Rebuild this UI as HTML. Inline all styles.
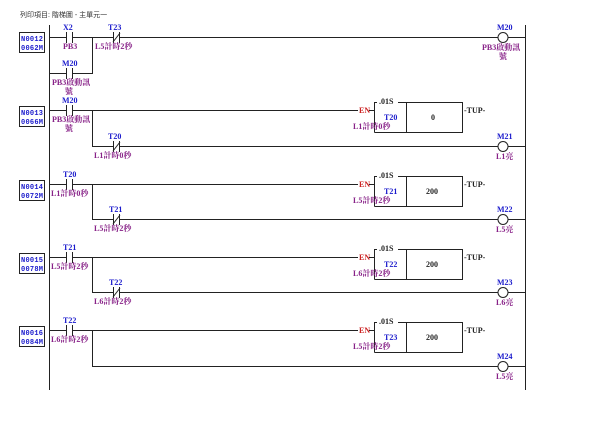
<!DOCTYPE html>
<html><head><meta charset="utf-8"><style>
html,body{margin:0;padding:0;background:#fff;width:600px;height:421px;overflow:hidden}
svg{display:block}
.a{fill:#1a1acc;font:bold 8px "Liberation Serif","Noto Serif CJK SC",serif}
.c{fill:#882288;font:bold 8px "Liberation Serif","Noto Serif CJK TC",serif}
.r{fill:#cc2222;font:bold 8px "Liberation Serif",serif}
.k{fill:#222;font:bold 8px "Liberation Serif",serif}
.n{fill:#1a1acc;font:bold 7px "Liberation Mono",monospace}
.t{fill:#333;font:7px "Liberation Sans","Noto Sans CJK TC",sans-serif}
line,rect,path,circle{stroke:#222;stroke-width:1;fill:none}
</style></head><body>
<svg width="600" height="421" viewBox="0 0 600 421">
<text class="t" x="20" y="17">列印項目: 階梯圖 - 主單元一</text>
<line x1="49.5" y1="25" x2="49.5" y2="390"/>
<line x1="525.5" y1="25" x2="525.5" y2="390"/>

<!-- N0012 -->
<rect x="19.5" y="32.5" width="25" height="20" stroke="#1a1acc"/>
<text class="n" x="21" y="41" textLength="22">N0012</text><text class="n" x="21" y="50" textLength="22">0062M</text>
<line x1="49" y1="37.5" x2="66" y2="37.5"/><line x1="66.5" y1="32" x2="66.5" y2="43"/><line x1="72.5" y1="32" x2="72.5" y2="43"/>
<line x1="72" y1="37.5" x2="113" y2="37.5"/>
<text class="a" x="63" y="30">X2</text><text class="c" x="63" y="49">PB3</text>
<line x1="113.5" y1="32" x2="113.5" y2="43"/><line x1="119.5" y1="32" x2="119.5" y2="43"/><line x1="113" y1="42" x2="120" y2="33"/>
<text class="a" x="108" y="30">T23</text><text class="c" x="95" y="49">L5計時2秒</text>
<line x1="119" y1="37.5" x2="498" y2="37.5"/>
<circle cx="503" cy="37.5" r="5"/><line x1="508" y1="37.5" x2="525" y2="37.5"/>
<text class="a" x="497" y="30">M20</text><text class="c" x="482" y="50">PB3啟動訊</text><text class="c" x="499" y="59">號</text>
<line x1="49" y1="73.5" x2="66" y2="73.5"/><line x1="66.5" y1="68" x2="66.5" y2="79"/><line x1="72.5" y1="68" x2="72.5" y2="79"/>
<line x1="72" y1="73.5" x2="92.5" y2="73.5"/><line x1="92.5" y1="37" x2="92.5" y2="74"/>
<text class="a" x="62" y="66">M20</text><text class="c" x="52" y="85">PB3啟動訊</text><text class="c" x="65" y="94">號</text>

<!-- N0013 -->
<rect x="19.5" y="106.5" width="25" height="20" stroke="#1a1acc"/>
<text class="n" x="21" y="115" textLength="22">N0013</text><text class="n" x="21" y="124" textLength="22">0066M</text>
<line x1="49" y1="110.5" x2="66" y2="110.5"/><line x1="66.5" y1="105" x2="66.5" y2="116"/><line x1="72.5" y1="105" x2="72.5" y2="116"/>
<text class="a" x="62" y="103">M20</text><text class="c" x="52" y="122">PB3啟動訊</text><text class="c" x="65" y="131">號</text>
<line x1="72" y1="110.5" x2="358" y2="110.5"/>
<text class="r" x="359" y="113">EN</text><line x1="369" y1="110.5" x2="374" y2="110.5"/>
<path d="M374.5 132.5 V102.5 H377 M398 102.5 H462.5 V132.5 H374.5 M406.5 102.5 V132.5"/>
<text class="k" x="379" y="104">.01S</text><text class="a" x="384" y="120">T20</text><text class="c" x="353" y="129">L1計時0秒</text>
<text class="k" x="431" y="120">0</text><text class="k" x="464" y="113">-TUP-</text>
<line x1="92.5" y1="110" x2="92.5" y2="147"/><line x1="92" y1="146.5" x2="113" y2="146.5"/>
<line x1="113.5" y1="141" x2="113.5" y2="152"/><line x1="119.5" y1="141" x2="119.5" y2="152"/><line x1="113" y1="151" x2="120" y2="142"/>
<text class="a" x="108" y="139">T20</text><text class="c" x="94" y="158">L1計時0秒</text>
<line x1="119" y1="146.5" x2="498" y2="146.5"/><circle cx="503" cy="146.5" r="5"/><line x1="508" y1="146.5" x2="525" y2="146.5"/>
<text class="a" x="497" y="139">M21</text><text class="c" x="496" y="159">L1亮</text>

<!-- N0014 -->
<rect x="19.5" y="180.5" width="25" height="20" stroke="#1a1acc"/>
<text class="n" x="21" y="189" textLength="22">N0014</text><text class="n" x="21" y="198" textLength="22">0072M</text>
<line x1="49" y1="184.5" x2="66" y2="184.5"/><line x1="66.5" y1="179" x2="66.5" y2="190"/><line x1="72.5" y1="179" x2="72.5" y2="190"/>
<text class="a" x="63" y="177">T20</text><text class="c" x="51" y="196">L1計時0秒</text>
<line x1="72" y1="184.5" x2="358" y2="184.5"/>
<text class="r" x="359" y="187">EN</text><line x1="369" y1="184.5" x2="374" y2="184.5"/>
<path d="M374.5 206.5 V176.5 H377 M398 176.5 H462.5 V206.5 H374.5 M406.5 176.5 V206.5"/>
<text class="k" x="379" y="178">.01S</text><text class="a" x="384" y="194">T21</text><text class="c" x="353" y="203">L5計時2秒</text>
<text class="k" x="426" y="194">200</text><text class="k" x="464" y="187">-TUP-</text>
<line x1="92.5" y1="184" x2="92.5" y2="220"/><line x1="92" y1="219.5" x2="113" y2="219.5"/>
<line x1="113.5" y1="214" x2="113.5" y2="225"/><line x1="119.5" y1="214" x2="119.5" y2="225"/><line x1="113" y1="224" x2="120" y2="215"/>
<text class="a" x="109" y="212">T21</text><text class="c" x="94" y="231">L5計時2秒</text>
<line x1="119" y1="219.5" x2="498" y2="219.5"/><circle cx="503" cy="219.5" r="5"/><line x1="508" y1="219.5" x2="525" y2="219.5"/>
<text class="a" x="497" y="212">M22</text><text class="c" x="496" y="232">L5亮</text>

<!-- N0015 -->
<rect x="19.5" y="253.5" width="25" height="20" stroke="#1a1acc"/>
<text class="n" x="21" y="262" textLength="22">N0015</text><text class="n" x="21" y="271" textLength="22">0078M</text>
<line x1="49" y1="257.5" x2="66" y2="257.5"/><line x1="66.5" y1="252" x2="66.5" y2="263"/><line x1="72.5" y1="252" x2="72.5" y2="263"/>
<text class="a" x="63" y="250">T21</text><text class="c" x="51" y="269">L5計時2秒</text>
<line x1="72" y1="257.5" x2="358" y2="257.5"/>
<text class="r" x="359" y="260">EN</text><line x1="369" y1="257.5" x2="374" y2="257.5"/>
<path d="M374.5 279.5 V249.5 H377 M398 249.5 H462.5 V279.5 H374.5 M406.5 249.5 V279.5"/>
<text class="k" x="379" y="251">.01S</text><text class="a" x="384" y="267">T22</text><text class="c" x="353" y="276">L6計時2秒</text>
<text class="k" x="426" y="267">200</text><text class="k" x="464" y="260">-TUP-</text>
<line x1="92.5" y1="257" x2="92.5" y2="293"/><line x1="92" y1="292.5" x2="113" y2="292.5"/>
<line x1="113.5" y1="287" x2="113.5" y2="298"/><line x1="119.5" y1="287" x2="119.5" y2="298"/><line x1="113" y1="297" x2="120" y2="288"/>
<text class="a" x="109" y="285">T22</text><text class="c" x="94" y="304">L6計時2秒</text>
<line x1="119" y1="292.5" x2="498" y2="292.5"/><circle cx="503" cy="292.5" r="5"/><line x1="508" y1="292.5" x2="525" y2="292.5"/>
<text class="a" x="497" y="285">M23</text><text class="c" x="496" y="305">L6亮</text>

<!-- N0016 -->
<rect x="19.5" y="326.5" width="25" height="20" stroke="#1a1acc"/>
<text class="n" x="21" y="335" textLength="22">N0016</text><text class="n" x="21" y="344" textLength="22">0084M</text>
<line x1="49" y1="330.5" x2="66" y2="330.5"/><line x1="66.5" y1="325" x2="66.5" y2="336"/><line x1="72.5" y1="325" x2="72.5" y2="336"/>
<text class="a" x="63" y="323">T22</text><text class="c" x="51" y="342">L6計時2秒</text>
<line x1="72" y1="330.5" x2="358" y2="330.5"/>
<text class="r" x="359" y="333">EN</text><line x1="369" y1="330.5" x2="374" y2="330.5"/>
<path d="M374.5 352.5 V322.5 H377 M398 322.5 H462.5 V352.5 H374.5 M406.5 322.5 V352.5"/>
<text class="k" x="379" y="324">.01S</text><text class="a" x="384" y="340">T23</text><text class="c" x="353" y="349">L5計時2秒</text>
<text class="k" x="426" y="340">200</text><text class="k" x="464" y="333">-TUP-</text>
<line x1="92.5" y1="330" x2="92.5" y2="367"/><line x1="92" y1="366.5" x2="498" y2="366.5"/>
<circle cx="503" cy="366.5" r="5"/><line x1="508" y1="366.5" x2="525" y2="366.5"/>
<text class="a" x="497" y="359">M24</text><text class="c" x="496" y="379">L5亮</text>
</svg>
</body></html>
